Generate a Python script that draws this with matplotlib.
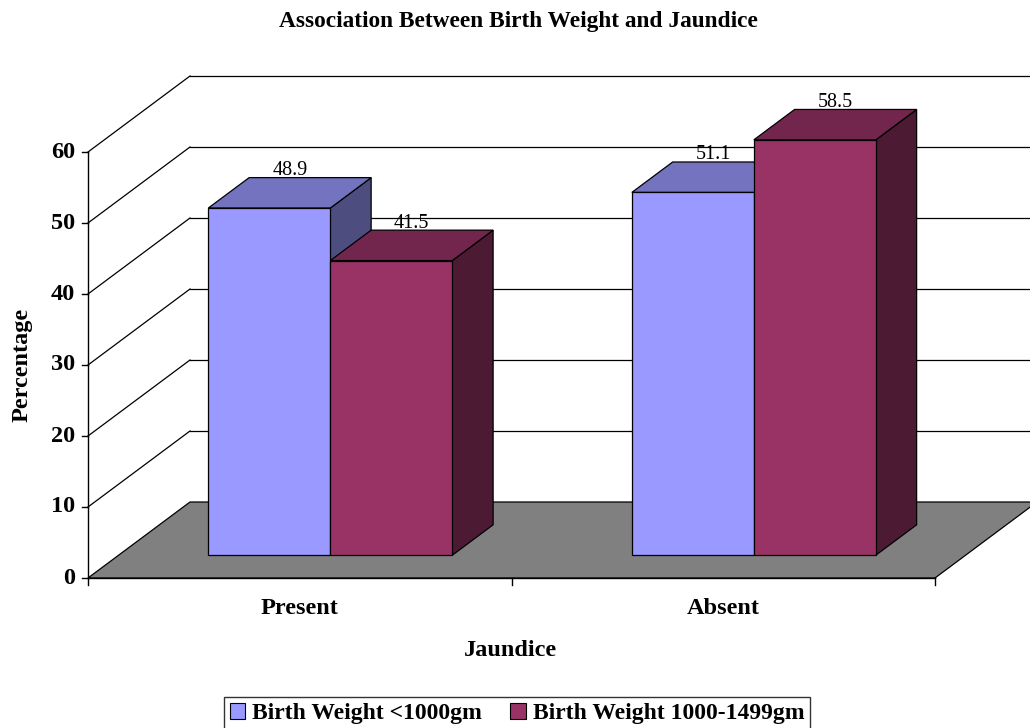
import matplotlib
matplotlib.use("Agg")
import matplotlib.pyplot as plt
from matplotlib.patches import Polygon, Patch

# ---- data ----
categories = ["Present", "Absent"]
series_names = ["Birth Weight <1000gm", "Birth Weight 1000-1499gm"]
weight_under_1000 = [48.9, 51.1]
weight_1000_1499 = [41.5, 58.5]
y_ticks = [0, 10, 20, 30, 40, 50, 60]

# ---- styling ----
FRONT = ["#9999FF", "#993366"]
TOP = ["#7373BF", "#73264D"]
SIDE = ["#4D4D80", "#4D1A33"]
FLOOR = "#808080"
FONT = "Liberation Serif"
FS = 17.5

W_PX, H_PX, DPI = 1030, 728, 100
ORIGIN = (88, 578)          # pixel position of (category 0, value 0, depth 0)
PX_PER_CAT = 423.5
PX_PER_VAL = 7.1
DEPTH_PX = (102, 76)        # pixel offset of the full chart depth
DX = DEPTH_PX[0] / PX_PER_CAT
DY = DEPTH_PX[1] / PX_PER_VAL
BAR_W = 0.288
Z_FRONT, Z_BACK = 0.3, 0.7


def proj(x, y, z):
    """Oblique projection of (category, value, depth) onto the 2-D axes."""
    return (x + z * DX, y + z * DY)


fig = plt.figure(figsize=(W_PX / DPI, H_PX / DPI), dpi=DPI)
ax = fig.add_axes([0, 0, 1, 1])
ax.set_xlim(-ORIGIN[0] / PX_PER_CAT, (W_PX - ORIGIN[0]) / PX_PER_CAT)
ax.set_ylim(-(H_PX - ORIGIN[1]) / PX_PER_VAL, ORIGIN[1] / PX_PER_VAL)
ax.axis("off")

n_cat = len(categories)
ymax = y_ticks[-1]
lw = 0.9

# floor
floor = [proj(0, 0, 0), proj(n_cat, 0, 0), proj(n_cat, 0, 1), proj(0, 0, 1)]
ax.add_patch(Polygon(floor, closed=True, facecolor=FLOOR, edgecolor="black",
                     linewidth=lw, zorder=1))

# back-wall gridlines and left-wall diagonals
for v in y_ticks:
    if v > 0:
        x0, y0 = proj(0, v, 1)
        x1, y1 = proj(n_cat + 1, v, 1)
        ax.plot([x0, x1], [y0, y1], color="black", lw=lw, zorder=1)
        a, b = proj(0, v, 0)
        ax.plot([a, x0], [b, y0], color="black", lw=lw, zorder=1)

# value axis with ticks
ax.plot([0, 0], [0, ymax], color="black", lw=1.0, zorder=5)
tick_dx = 6 / PX_PER_CAT
for v in y_ticks:
    ax.plot([-tick_dx, 0], [v, v], color="black", lw=1.0, zorder=5)
    ax.text(-tick_dx - 7 / PX_PER_CAT, v, str(v), ha="right", va="center",
            fontsize=FS, fontweight="bold", family=FONT)

# category axis with ticks
ax.plot([0, n_cat], [0, 0], color="black", lw=1.0, zorder=5)
tick_dy = 7 / PX_PER_VAL
for i in range(n_cat + 1):
    ax.plot([i, i], [0, -tick_dy], color="black", lw=1.0, zorder=5)
for i, c in enumerate(categories):
    ax.text(i + 0.5, -31 / PX_PER_VAL, c, ha="center", va="center",
            fontsize=FS, fontweight="bold", family=FONT)


def draw_bar(x0, x1, h, k, z):
    front = [proj(x0, 0, Z_FRONT), proj(x1, 0, Z_FRONT),
             proj(x1, h, Z_FRONT), proj(x0, h, Z_FRONT)]
    top = [proj(x0, h, Z_FRONT), proj(x1, h, Z_FRONT),
           proj(x1, h, Z_BACK), proj(x0, h, Z_BACK)]
    side = [proj(x1, 0, Z_FRONT), proj(x1, 0, Z_BACK),
            proj(x1, h, Z_BACK), proj(x1, h, Z_FRONT)]
    for poly, col in ((side, SIDE[k]), (top, TOP[k]), (front, FRONT[k])):
        ax.add_patch(Polygon(poly, closed=True, facecolor=col,
                             edgecolor="black", linewidth=lw, zorder=z))
    # value label sits just above the back edge of the top face
    lx, _ = proj((x0 + x1) / 2, h, (Z_FRONT + Z_BACK) / 2)
    ly = proj(0, h, Z_BACK)[1] + 7 / PX_PER_VAL
    ax.text(lx, ly, f"{h:.1f}", ha="center", va="center", fontsize=14.5,
            family=FONT, zorder=2)


series = [weight_under_1000, weight_1000_1499]
z = 3
for i in range(n_cat):
    c = i + 0.5
    for k, vals in enumerate(series):
        x0 = c - BAR_W + k * BAR_W
        draw_bar(x0, x0 + BAR_W, vals[i], k, z)
        z += 1

# titles
fig.text(518 / W_PX, 1 - 21 / H_PX, "Association Between Birth Weight and Jaundice",
         ha="center", va="center", fontsize=16.8, fontweight="bold", family=FONT)
fig.text(22 / W_PX, 1 - 365 / H_PX, "Percentage", rotation=90, ha="center",
         va="center", fontsize=FS, fontweight="bold", family=FONT)
fig.text(510 / W_PX, 1 - 651 / H_PX, "Jaundice", ha="center", va="center",
         fontsize=FS, fontweight="bold", family=FONT)

# legend
handles = [Patch(facecolor=FRONT[k], edgecolor="black", linewidth=0.8)
           for k in range(len(series_names))]
leg = fig.legend(handles, series_names, loc="upper center", ncol=2,
                 bbox_to_anchor=(517 / W_PX, 1 - 697 / H_PX), frameon=True,
                 fancybox=False, handlelength=0.65, handleheight=0.65,
                 handletextpad=0.3, columnspacing=1.2, borderpad=0.25,
                 borderaxespad=0.0,
                 prop={"family": FONT, "weight": "bold", "size": 17})
leg.get_frame().set_edgecolor("black")
leg.get_frame().set_linewidth(1.0)

fig.savefig("out.png", dpi=DPI)
